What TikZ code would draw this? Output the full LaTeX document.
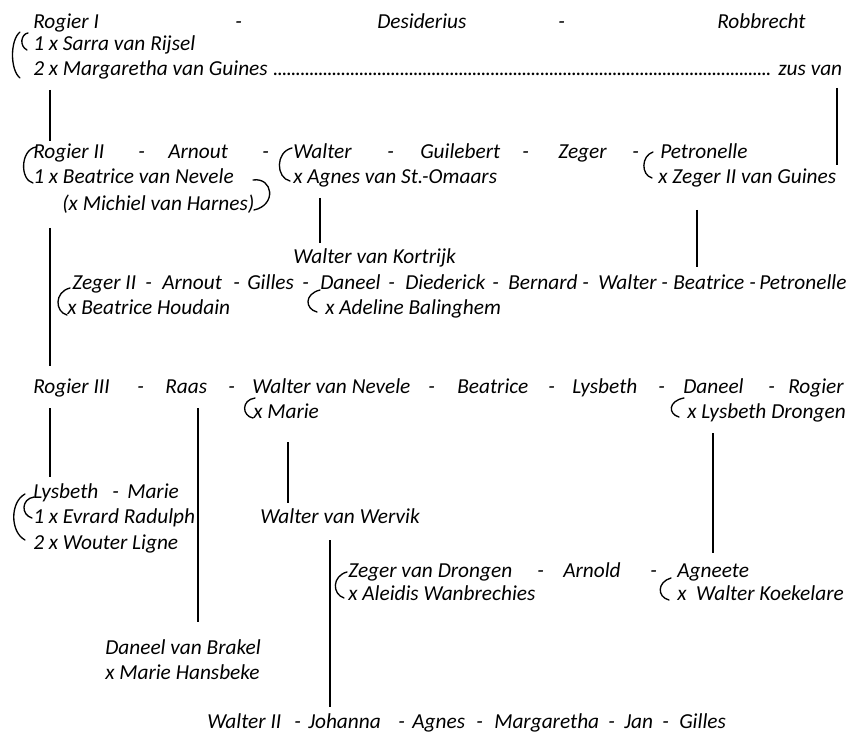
\documentclass[tikz,border=0pt]{standalone}
\usepackage{fontspec}
\setmainfont{Carlito}
\begin{document}
\begin{tikzpicture}[x=0.75pt,y=-0.75pt,
  nm/.style={anchor=base west, inner sep=0pt, font=\fontsize{16}{19}\selectfont\itshape},
  link/.style={line width=1.4pt},
  brk/.style={line width=1pt, line cap=round}]
\useasboundingbox (0,0) rectangle (850,738);
% ---- generation 1
\node[nm] (rogI) at (33,29) {Rogier I};
\node[nm] (d1a) at (235,29) {-};
\node[nm] (desid) at (377,29) {Desiderius};
\node[nm] (d1b) at (558,29) {-};
\node[nm] (robb) at (717,29) {Robbrecht};
\node[nm] (sarra) at (33,51) {1 x Sarra van Rijsel};
\node[nm] (marg) at (33,76) {\hbox to 607.5pt{2 x Margaretha van Guines \leaders\hbox to 3.4pt{\hss.\hss}\hfill\ zus van}};
% ---- generation 2
\node[nm] (rogII) at (33,159) {Rogier II};
\node[nm] (d2a) at (138,159) {-};
\node[nm] (arn) at (168,159) {Arnout};
\node[nm] (d2b) at (262,159) {-};
\node[nm] (walt) at (293,159) {Walter};
\node[nm] (d2c) at (387,159) {-};
\node[nm] (guil) at (420,159) {Guilebert};
\node[nm] (d2d) at (522,159) {-};
\node[nm] (zeg) at (558,159) {Zeger};
\node[nm] (d2e) at (632,159) {-};
\node[nm] (petr) at (660,159) {Petronelle};
\node[nm] (beatN) at (33,184) {1 x Beatrice van Nevele};
\node[nm] (agnes) at (293,184) {x Agnes van St.-Omaars};
\node[nm] (zegG) at (658,184) {x Zeger II van Guines};
\node[nm] (mich) at (62,211) {(x Michiel van Harnes)};
% ---- generation 3
\node[nm] (waltK) at (293,263) {Walter van Kortrijk};
\node[nm] (zegII) at (72,289) {Zeger II};
\node[nm] (d3a) at (145,289) {-};
\node[nm] (arn3) at (162,289) {Arnout};
\node[nm] (d3b) at (233,289) {-};
\node[nm] (gil3) at (247,289) {Gilles};
\node[nm] (d3c) at (302,289) {-};
\node[nm] (dan3) at (320,289) {Daneel};
\node[nm] (d3d) at (388,289) {-};
\node[nm] (died) at (405,289) {Diederick};
\node[nm] (d3e) at (492,289) {-};
\node[nm] (bern) at (508,289) {Bernard};
\node[nm] (d3f) at (582,289) {-};
\node[nm] (walt3) at (598,289) {Walter};
\node[nm] (d3g) at (661,289) {-};
\node[nm] (beat3) at (673,289) {Beatrice};
\node[nm] (d3h) at (749,289) {-};
\node[nm] (petr3) at (759,289) {Petronelle};
\node[nm] (houd) at (67,314) {x Beatrice Houdain};
\node[nm] (adel) at (325,314) {x Adeline Balinghem};
% ---- generation 4
\node[nm] (rogIII) at (33,393) {Rogier III};
\node[nm] (d4a) at (137,393) {-};
\node[nm] (raas) at (165,393) {Raas};
\node[nm] (d4b) at (228,393) {-};
\node[nm] (waltN) at (252,393) {Walter van Nevele};
\node[nm] (d4c) at (428,393) {-};
\node[nm] (beat4) at (457,393) {Beatrice};
\node[nm] (d4d) at (548,393) {-};
\node[nm] (lysb4) at (572,393) {Lysbeth};
\node[nm] (d4e) at (658,393) {-};
\node[nm] (dan4) at (683,393) {Daneel};
\node[nm] (d4f) at (768,393) {-};
\node[nm] (rog4) at (788,393) {Rogier};
\node[nm] (xmar) at (253,418) {x Marie};
\node[nm] (lysD) at (687,418) {x Lysbeth Drongen};
% ---- generation 5
\node[nm] (lysb5) at (33,498) {Lysbeth};
\node[nm] (d5a) at (112,498) {-};
\node[nm] (mar5) at (127,498) {Marie};
\node[nm] (evr) at (33,523) {1 x Evrard Radulph};
\node[nm] (wout) at (33,549) {2 x Wouter Ligne};
\node[nm] (waltW) at (260,523) {Walter van Wervik};
\node[nm] (zegD) at (348,577) {Zeger van Drongen};
\node[nm] (d6a) at (537,577) {-};
\node[nm] (arnd) at (563,577) {Arnold};
\node[nm] (d6b) at (650,577) {-};
\node[nm] (agn) at (677,577) {Agneete};
\node[nm] (aleid) at (348,600) {x Aleidis Wanbrechies};
\node[nm] (koek) at (677,600) {x\ \ Walter Koekelare};
\node[nm] (danB) at (105,654) {Daneel van Brakel};
\node[nm] (hans) at (105,679) {x Marie Hansbeke};
% ---- generation 6
\node[nm] (waltII) at (207,728) {Walter II};
\node[nm] (d7a) at (294,728) {-};
\node[nm] (joh) at (308,728) {Johanna};
\node[nm] (d7b) at (398,728) {-};
\node[nm] (agn7) at (412,728) {Agnes};
\node[nm] (d7c) at (476,728) {-};
\node[nm] (marg7) at (494,728) {Margaretha};
\node[nm] (d7d) at (608,728) {-};
\node[nm] (jan) at (624,728) {Jan};
\node[nm] (d7e) at (662,728) {-};
\node[nm] (gil7) at (679,728) {Gilles};
% ---- connectors
\coordinate (c1a) at (50,90);   \coordinate (c1b) at (50,141);
\coordinate (c2a) at (837,88);  \coordinate (c2b) at (837,165);
\coordinate (c3a) at (320,198); \coordinate (c3b) at (320,243);
\coordinate (c4a) at (697,210); \coordinate (c4b) at (697,267);
\coordinate (c5a) at (50,228);  \coordinate (c5b) at (50,366);
\coordinate (c6a) at (50,408);  \coordinate (c6b) at (50,477);
\coordinate (c7a) at (198,408); \coordinate (c7b) at (198,622);
\coordinate (c8a) at (288,442); \coordinate (c8b) at (288,503);
\coordinate (c9a) at (713,433); \coordinate (c9b) at (713,553);
\coordinate (c10a) at (330,540);\coordinate (c10b) at (330,707);
\foreach \n in {1,...,10} \draw[link] (c\n a) -- (c\n b);
% ---- brackets
\draw[brk] (20,32) .. controls (10,40) and (10,70) .. (20,78);
\draw[brk] (28,33) .. controls (21,34) and (19,46) .. (27,50);
\draw[brk] (36,147) .. controls (20,150) and (20,180) .. (33,183);
\draw[brk] (292,148) .. controls (275,152) and (276,178) .. (290,181);
\draw[brk] (653,152) .. controls (641,156) and (641,175) .. (652,178);
\draw[brk] (253,180) .. controls (273,177) and (277,205) .. (254,210);
\draw[brk] (70,288) .. controls (54,292) and (55,312) .. (67,315);
\draw[brk] (320,290) .. controls (304,294) and (305,309) .. (317,312);
\draw[brk] (255,398) .. controls (241,400) and (242,416) .. (253,418);
\draw[brk] (684,398) .. controls (668,401) and (668,414) .. (679,417);
\draw[brk] (25,494) .. controls (10,502) and (10,532) .. (25,540);
\draw[brk] (34,497) .. controls (21,499) and (21,515) .. (32,518);
\draw[brk] (347,572) .. controls (332,576) and (332,594) .. (344,598);
\draw[brk] (671,578) .. controls (657,582) and (657,597) .. (669,600);
\end{tikzpicture}
\end{document}
